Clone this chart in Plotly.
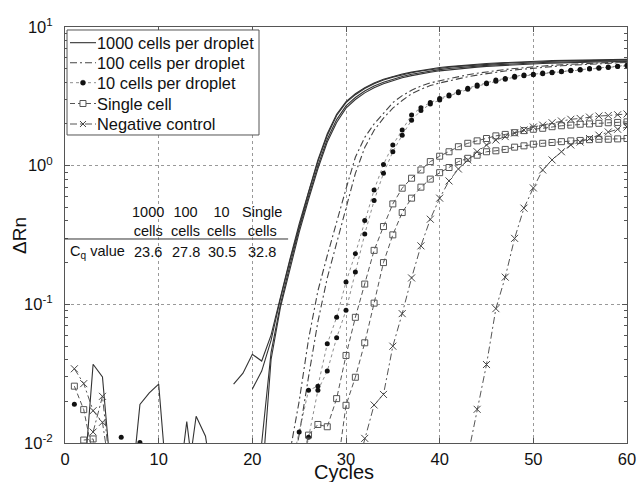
import plotly.graph_objects as go

# ---------------- data (ΔRn per cycle; None = not plotted / negative) ----------------
# 1000 cells per droplet (4 replicates), each list starts at the given cycle
k1_start = 18
k1 = [0.0266, 0.0319, 0.0436, 0.039, 0.06, 0.115, 0.21, 0.38, 0.66, 1.1, 1.7, 2.35, 2.9,
      3.3, 3.65, 3.95, 4.2, 4.4, 4.58, 4.73, 4.87, 4.99, 5.1, 5.18, 5.26, 5.33, 5.39, 5.45,
      5.5, 5.55, 5.59, 5.63, 5.66, 5.69, 5.72, 5.74, 5.76, 5.78, 5.8, 5.81, 5.82, 5.83, 5.84]
k2_start = 7
k2 = [0.004, 0.019, 0.023, 0.0266, 0.004] + [None] * 8 + [
      0.0245, 0.033, 0.055, 0.11, 0.205, 0.37, 0.64, 1.07, 1.65, 2.3, 2.85, 3.25, 3.6, 3.9,
      4.15, 4.35, 4.53, 4.68, 4.82, 4.94, 5.05, 5.13, 5.2, 5.27, 5.33, 5.39, 5.44, 5.49,
      5.53, 5.57, 5.6, 5.63, 5.66, 5.68, 5.7, 5.72, 5.74, 5.75, 5.76, 5.77, 5.78]
k3_start = 2
k3 = [0.005, 0.037, 0.030, 0.005] + [None] * 6 + [0.004, 0.0143, 0.004] + [None] * 5 + [
      0.004, 0.01, 0.045, 0.1, 0.19, 0.35, 0.6, 1.0, 1.55, 2.15, 2.7, 3.1, 3.45, 3.75, 4.0,
      4.2, 4.4, 4.56, 4.7, 4.82, 4.93, 5.02, 5.1, 5.17, 5.23, 5.29, 5.34, 5.39, 5.43, 5.47,
      5.51, 5.54, 5.57, 5.6, 5.62, 5.64, 5.66, 5.67, 5.68, 5.69, 5.7]
k4_start = 13
k4 = [0.005, 0.0156, 0.0112, 0.004] + [None] * 4 + [
      0.005, 0.04, 0.095, 0.18, 0.33, 0.57, 0.95, 1.48, 2.05, 2.6, 3.0, 3.35, 3.65, 3.9,
      4.1, 4.3, 4.46, 4.6, 4.72, 4.83, 4.92, 5.0, 5.07, 5.14, 5.2, 5.25, 5.3, 5.35, 5.39,
      5.43, 5.46, 5.49, 5.52, 5.55, 5.57, 5.59, 5.61, 5.62, 5.63, 5.64]

# 100 cells per droplet (2 replicates)
d1_start = 24
d1 = [0.0085, 0.02, 0.056, 0.125, 0.225, 0.40, 0.68, 1.15, 1.6, 2.0, 2.4, 2.85, 3.2, 3.5,
      3.75, 3.95, 4.1, 4.25, 4.4, 4.52, 4.64, 4.75, 4.85, 4.94, 5.02, 5.1, 5.17, 5.23, 5.29,
      5.34, 5.39, 5.43, 5.47, 5.51, 5.54, 5.57, 5.6]
d2_start = 24
d2 = [0.005, 0.0115, 0.03, 0.075, 0.155, 0.28, 0.5, 0.88, 1.35, 1.8, 2.2, 2.6, 2.95, 3.3,
      3.55, 3.78, 3.95, 4.1, 4.25, 4.38, 4.5, 4.62, 4.72, 4.82, 4.9, 4.98, 5.06, 5.13, 5.19,
      5.25, 5.3, 5.35, 5.4, 5.44, 5.48, 5.52, 5.55]

# 10 cells per droplet (2 replicates)
t1_start = 1
t1 = [0.019] + [None] * 4 + [0.011, None, 0.0101] + [None] * 15 + [
      0.006, 0.0120, 0.0240, 0.0257, 0.0519, 0.0806, 0.145, 0.232, 0.402, 0.668, 1.02, 1.41,
      1.81, 2.32, 2.62, 2.85, 3.05, 3.23, 3.41, 3.61, 3.81, 3.95, 4.14, 4.25, 4.42, 4.50,
      4.57, 4.65, 4.72, 4.80, 4.88, 4.94, 5.02, 5.08, 5.15, 5.22, 5.30]
t2_start = 25
t2 = [0.005, 0.0110, 0.0240, 0.0330, 0.0573, 0.0905, 0.171, 0.321, 0.560, 0.881, 1.26,
      1.66, 2.13, 2.50, 2.78, 2.98, 3.18, 3.36, 3.55, 3.74, 3.90, 4.07, 4.20, 4.35, 4.45,
      4.53, 4.61, 4.68, 4.76, 4.84, 4.90, 4.97, 5.04, 5.11, 5.18, 5.26]

# Single cell (2 replicates)
s1_start = 1
s1 = [0.0257, 0.0174, 0.008] + [None] * 21 + [
      0.006, 0.0114, 0.0136, 0.0131, 0.0209, 0.0428, 0.0806, 0.140, 0.245, 0.364, 0.530,
      0.688, 0.812, 0.931, 1.07, 1.17, 1.26, 1.37, 1.45, 1.51, 1.57, 1.64, 1.68, 1.73, 1.79,
      1.83, 1.86, 1.91, 1.94, 1.96, 1.99, 2.00, 2.02, 2.04, 2.05, 2.07]
s2_start = 2
s2 = [0.0105, 0.0107, 0.005] + [None] * 24 + [
      0.006, 0.0187, 0.0298, 0.0528, 0.102, 0.200, 0.317, 0.459, 0.583, 0.70, 0.80, 0.89,
      0.97, 1.07, 1.13, 1.19, 1.26, 1.28, 1.31, 1.36, 1.39, 1.43, 1.45, 1.47, 1.49, 1.51,
      1.52, 1.54, 1.55, 1.55, 1.56, 1.57]

# Negative control (2 replicates)
n1_start = 1
n1 = [0.0343, 0.0268, 0.0171, 0.0141, 0.005] + [None] * 25 + [
      0.006, 0.0108, 0.0188, 0.0224, 0.0499, 0.0857, 0.155, 0.264, 0.411, 0.583, 0.776,
      0.946, 1.10, 1.26, 1.41, 1.53, 1.62, 1.72, 1.81, 1.90, 1.96, 2.04, 2.10, 2.16, 2.19,
      2.24, 2.28, 2.30, 2.33, 2.36]
n2_start = 3
n2 = [0.012, 0.0217, 0.005] + [None] * 37 + [
      0.008, 0.0175, 0.0368, 0.0931, 0.157, 0.299, 0.494, 0.691, 0.931, 1.10, 1.26, 1.41,
      1.48, 1.57, 1.66, 1.75, 1.83, 1.90]

# Cq table
table_headers = ["1000<br>cells", "100<br>cells", "10<br>cells", "Single<br>cells"]
cq_values = [23.6, 27.8, 30.5, 32.8]
cq_label = "C<sub>q</sub> value"

legend_names = ["1000 cells per droplet", "100 cells per droplet", "10 cells per droplet",
                "Single cell", "Negative control"]

y_tickvals = [0.01, 0.1, 1, 10]
y_ticktext = ["10<sup>-2</sup>", "10<sup>-1</sup>", "10<sup>0</sup>", "10<sup>1</sup>"]


def cycles(start, vals):
    return list(range(start, start + len(vals)))


FONT = "Liberation Sans, Arial, Helvetica, sans-serif"
TXT = "#111111"
DASHDOT = "7px,3px,2px,3px"
W, H = 638, 482
M = dict(l=65, r=11, t=27, b=39)
PW, PH = W - M["l"] - M["r"], H - M["t"] - M["b"]
fig = go.Figure()

line_styles = [
    dict(color="#333333", width=1.1),
    dict(color="#444444", width=1.1, dash=DASHDOT),
    dict(color="#808080", width=0.9, dash="dot"),
    dict(color="#555555", width=1.0, dash="5px,3px"),
    dict(color="#555555", width=1.0, dash=DASHDOT),
]
marker_styles = [
    None,
    None,
    dict(symbol="circle", size=5, color="#111111"),
    dict(symbol="square-open", size=6, color="#555555", line=dict(width=1, color="#555555")),
    dict(symbol="x-thin", size=7, color="#444444", line=dict(width=1, color="#444444")),
]

groups = [
    [(k1_start, k1), (k2_start, k2), (k3_start, k3), (k4_start, k4)],
    [(d1_start, d1), (d2_start, d2)],
    [(t1_start, t1), (t2_start, t2)],
    [(s1_start, s1), (s2_start, s2)],
    [(n1_start, n1), (n2_start, n2)],
]

for gi, (name, curves) in enumerate(zip(legend_names, groups)):
    for st, vals in curves:
        kw = dict(mode="lines", line=line_styles[gi])
        if marker_styles[gi] is not None:
            kw = dict(mode="lines+markers", line=line_styles[gi], marker=marker_styles[gi])
        fig.add_trace(go.Scatter(x=cycles(st, vals), y=vals, name=name, showlegend=False,
                                 connectgaps=False, hoverinfo="skip", **kw))

# ---- hand-drawn legend (MATLAB style), paper coordinates ----
leg_box = dict(x0=0.0036, x1=0.3452, y0=0.7404, y1=0.9928)
leg_rows = [0.9623, 0.9142, 0.8661, 0.8161, 0.7668]
sample_x = (0.0089, 0.0552)
sample_mid = 0.032
text_x = 0.0564
px_x, px_y = 1.0 / PW, 1.0 / PH  # one pixel in paper units

fig.add_shape(type="rect", xref="paper", yref="paper", layer="above", **leg_box,
              fillcolor="white", line=dict(color="#555555", width=1))
for gi, (name, yrow) in enumerate(zip(legend_names, leg_rows)):
    fig.add_shape(type="line", xref="paper", yref="paper", layer="above",
                  x0=sample_x[0], x1=sample_x[1], y0=yrow, y1=yrow, line=line_styles[gi])
    if gi == 2:
        fig.add_shape(type="circle", xref="paper", yref="paper", layer="above",
                      x0=sample_mid - 2.5 * px_x, x1=sample_mid + 2.5 * px_x,
                      y0=yrow - 2.5 * px_y, y1=yrow + 2.5 * px_y,
                      fillcolor="#111111", line=dict(color="#111111", width=0.5))
    elif gi == 3:
        fig.add_shape(type="rect", xref="paper", yref="paper", layer="above",
                      x0=sample_mid - 3 * px_x, x1=sample_mid + 3 * px_x,
                      y0=yrow - 3 * px_y, y1=yrow + 3 * px_y,
                      fillcolor="white", line=dict(color="#555555", width=1))
    elif gi == 4:
        for sgn in (1, -1):
            fig.add_shape(type="line", xref="paper", yref="paper", layer="above",
                          x0=sample_mid - 3 * px_x, x1=sample_mid + 3 * px_x,
                          y0=yrow - sgn * 3 * px_y, y1=yrow + sgn * 3 * px_y,
                          line=dict(color="#444444", width=1))
    fig.add_annotation(x=text_x, y=yrow, xref="paper", yref="paper", text=name, showarrow=False,
                       xanchor="left", yanchor="middle", xshift=-2,
                       font=dict(size=16.4, family=FONT, color=TXT))

# ---- Cq table ----
hx = [0.1468, 0.2153, 0.2785, 0.3514]
for x, h, v in zip(hx, table_headers, cq_values):
    fig.add_annotation(x=x, y=0.5325, xref="paper", yref="paper", text=h, showarrow=False,
                       xanchor="center", yanchor="middle", font=dict(size=14.5, family=FONT, color=TXT))
    fig.add_annotation(x=x, y=0.4599, xref="paper", yref="paper", text=f"{v:.1f}", showarrow=False,
                       xanchor="center", yanchor="middle", font=dict(size=14.5, family=FONT, color=TXT))
fig.add_annotation(x=0.006, y=0.4599, xref="paper", yref="paper", text=cq_label, showarrow=False,
                   xanchor="left", yanchor="middle", font=dict(size=14.5, family=FONT, color=TXT))
fig.add_shape(type="line", xref="paper", yref="paper", x0=0.0, x1=0.397, y0=0.4904, y1=0.4904,
              line=dict(color="#333333", width=1))

# ---- axis titles ----
fig.add_annotation(x=0.4964, y=-0.069, xref="paper", yref="paper", text="Cycles", showarrow=False,
                   xanchor="center", yanchor="middle", font=dict(size=20, family=FONT, color=TXT))
fig.add_annotation(x=-0.082, y=0.5, xref="paper", yref="paper", text="ΔRn", showarrow=False,
                   textangle=-90, xanchor="center", yanchor="middle",
                   font=dict(size=19, family=FONT, color=TXT))

minor_vals = [k * 10 ** e for e in (-2, -1, 0) for k in range(2, 10)]

fig.update_layout(
    width=W, height=H,
    margin=dict(**M, autoexpand=False),
    paper_bgcolor="white", plot_bgcolor="white",
    font=dict(family=FONT, color=TXT),
    showlegend=False,
    xaxis=dict(range=[0, 60], tick0=0, dtick=10, showgrid=True, gridcolor="#999999",
               griddash="dot", gridwidth=1, zeroline=False, showline=True, linecolor="#555555",
               mirror="ticks", ticks="inside", ticklen=5, tickcolor="#555555",
               ticklabelstandoff=1, automargin=False, ticklabeloverflow="allow",
               tickfont=dict(size=16.5, family=FONT, color=TXT)),
    yaxis=dict(type="log", range=[-2, 1], tickvals=y_tickvals, ticktext=y_ticktext,
               showgrid=True, gridcolor="#999999", griddash="dot", gridwidth=1, zeroline=False,
               showline=True, linecolor="#555555", mirror="ticks", ticks="inside", ticklen=5,
               tickcolor="#555555", ticklabelstandoff=8, automargin=False,
               tickfont=dict(size=16.5, family=FONT, color=TXT),
               minor=dict(tickvals=minor_vals, ticks="inside", ticklen=3, tickcolor="#555555",
                          showgrid=False)),
)

# remove the browser's default 8px body margin so the figure fills the 638x482 window
fig.write_html("out.html", config={"displayModeBar": False},
               post_script="document.body.style.margin='0';document.body.style.overflow='hidden';")
